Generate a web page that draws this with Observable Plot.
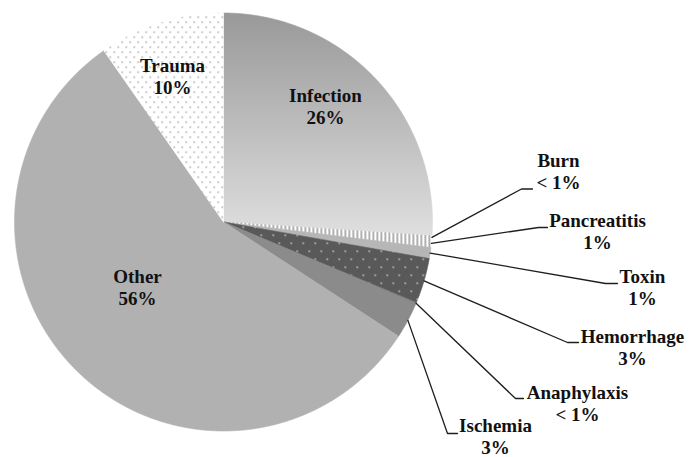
<!DOCTYPE html>
<html><head><meta charset="utf-8">
<script src="https://cdn.jsdelivr.net/npm/d3@7"></script>
<script src="https://cdn.jsdelivr.net/npm/@observablehq/plot@0.6"></script>
<style>html,body{margin:0;padding:0;background:#fff;} #chart svg{display:block}</style>
</head><body>
<svg width="0" height="0" style="position:absolute">
<defs>
<linearGradient id="gInfection" x1="0" y1="0" x2="0" y2="1">
  <stop offset="0" stop-color="#999999"/><stop offset="1" stop-color="#dfdfdf"/>
</linearGradient>
<pattern id="pStripes" patternUnits="userSpaceOnUse" width="4" height="4">
  <rect width="4" height="4" fill="#ffffff"/><rect width="1.6" height="4" fill="#9c9c9c"/>
</pattern>
<pattern id="pDarkDots" patternUnits="userSpaceOnUse" width="12" height="16">
  <rect width="12" height="16" fill="#595959"/>
  <rect x="2" y="2" width="1.4" height="1.4" fill="#e2e2e2"/>
  <rect x="8" y="10" width="1.4" height="1.4" fill="#e2e2e2"/>
</pattern>
<pattern id="pLightDots" patternUnits="userSpaceOnUse" width="8" height="10">
  <rect width="8" height="10" fill="#ffffff"/>
  <rect x="1" y="1" width="1.3" height="1.3" fill="#8a8a8a"/>
  <rect x="5" y="6" width="1.3" height="1.3" fill="#8a8a8a"/>
</pattern>
</defs></svg>
<div id="chart"></div>
<script>
// ---- data ----
const categories = ["Infection","Burn","Pancreatitis","Toxin","Hemorrhage","Anaphylaxis","Ischemia","Other","Trauma"];
const shares = [26.05, 0.25, 0.65, 0.85, 3.5, 0.1, 2.8, 56.1, 9.7];
const pctLabels = ["26%","< 1%","1%","1%","3%","< 1%","3%","56%","10%"];

// ---- styles ----
const sliceFills = ["url(#gInfection)","url(#pStripes)","url(#pStripes)","#b6b6b6","url(#pDarkDots)","#7a7a7a","#8b8b8b","#b1b1b1","url(#pLightDots)"];
const labelFont = "'Liberation Serif', 'Times New Roman', 'DejaVu Serif', serif";

// ---- layout (label anchors, leader elbows) ----
const labelLayout = {
  Infection:   {x: 325, y: 123},
  Other:       {x: 137, y: 304},
  Trauma:      {x: 172, y: 93},
  Burn:        {x: 558, y: 188, elbow: [521, 188.5], end: [532, 188.5]},
  Pancreatitis:{x: 597, y: 248, elbow: [538, 227], end: [547, 227]},
  Toxin:       {x: 642, y: 304, elbow: [605, 283], end: [617, 283]},
  Hemorrhage:  {x: 632, y: 364, elbow: [567, 342], end: [578, 342]},
  Anaphylaxis: {x: 577, y: 420, elbow: [515, 398], end: [523, 398]},
  Ischemia:    {x: 495, y: 453, elbow: [447, 433], end: [457, 433]}
};
const cx = 223, cy = 221.5, R = 209;

const rows = categories.map((name, i) => ({name, value: shares[i], pct: pctLabels[i], fill: sliceFills[i]}));
const arcs = d3.pie().sort(null).value(d => d.value)(rows);

const slicePts = arcs.map((a) => {
  const pts = [{x: cx, y: cy}];
  const n = Math.max(2, Math.ceil((a.endAngle - a.startAngle) / (Math.PI / 720)));
  for (let k = 0; k <= n; k++) {
    const t = a.startAngle + (a.endAngle - a.startAngle) * k / n;
    pts.push({x: cx + R * Math.sin(t), y: cy - R * Math.cos(t)});
  }
  pts.push({x: cx, y: cy});
  return pts;
});

const leaders = [];
arcs.forEach((a) => {
  const L = labelLayout[a.data.name];
  if (!L.elbow) return;
  const t = (a.startAngle + a.endAngle) / 2;
  leaders.push({name: a.data.name, x: cx + R * Math.sin(t), y: cy - R * Math.cos(t)});
  leaders.push({name: a.data.name, x: L.elbow[0], y: L.elbow[1]});
  leaders.push({name: a.data.name, x: L.end[0], y: L.end[1]});
});

const labels = rows.map(d => ({text: d.name + "\n" + d.pct, x: labelLayout[d.name].x, y: labelLayout[d.name].y}));

const chart = Plot.plot({
  width: 696, height: 457,
  margin: 0,
  x: {type: "identity", axis: null},
  y: {type: "identity", axis: null},
  style: {background: "white"},
  marks: [
    ...slicePts.map((pts, i) => Plot.line(pts, {x: "x", y: "y", fill: sliceFills[i], stroke: sliceFills[i], strokeWidth: 0.6, curve: "linear"})),
    Plot.line(leaders, {x: "x", y: "y", z: "name", stroke: "#1e1e1e", strokeWidth: 1.3, curve: "linear", strokeLinejoin: "miter"}),
    Plot.text(labels, {x: "x", y: "y", text: "text", lineAnchor: "bottom", textAnchor: "middle",
      fontFamily: labelFont, fontWeight: "bold", fontSize: 19, lineHeight: 22/19, fill: "#111"})
  ]
});
document.getElementById("chart").appendChild(chart);
</script>
</body></html>
